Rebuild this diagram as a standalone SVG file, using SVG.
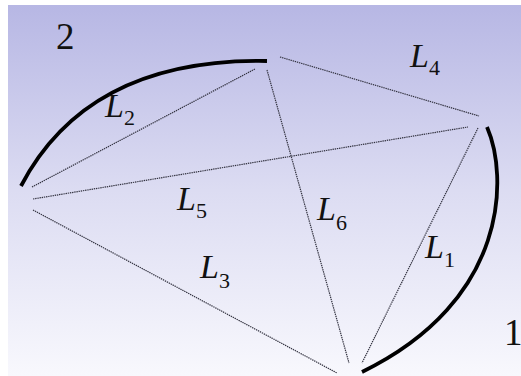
<svg xmlns="http://www.w3.org/2000/svg" width="521" height="376" viewBox="0 0 521 376">
<defs>
<linearGradient id="bg" x1="0" y1="0" x2="0" y2="1">
<stop offset="0" stop-color="#b7b7e4"/>
<stop offset="0.5" stop-color="#dcdcf2"/>
<stop offset="1" stop-color="#f8f8fd"/>
</linearGradient>
</defs>
<style>
.link{stroke:#333340;stroke-width:1.2;stroke-dasharray:1.4 0.8;fill:none}
.arc{stroke:#000;stroke-width:3.8;fill:none;stroke-linecap:butt}
.lab{font-family:"Liberation Serif","Times New Roman",serif;font-style:italic;font-size:34px;fill:#111}
.sub{font-style:normal;font-size:22px}
.num{font-family:"Liberation Serif","Times New Roman",serif;font-size:37px;fill:#111}
</style>
<rect x="0" y="0" width="521" height="376" fill="#ffffff"/>
<rect x="8" y="5" width="513" height="371" fill="url(#bg)"/>
<g id="connectors">
<line class="link" x1="32" y1="187" x2="255" y2="69"/>
<line class="link" x1="280" y1="57" x2="479" y2="116"/>
<line class="link" x1="33" y1="199" x2="468" y2="127"/>
<line class="link" x1="267" y1="70" x2="349" y2="363"/>
<line class="link" x1="478" y1="128" x2="362" y2="363"/>
<line class="link" x1="33" y1="210" x2="337" y2="373"/>
</g>
<g id="node2">
<path class="arc" d="M21,186 Q88,58 267,61"/>
<text class="num" x="56" y="49">2</text>
</g>
<g id="node1">
<path class="arc" d="M487,127 C508,175 510,300 362,372"/>
<text class="num" x="504" y="345">1</text>
</g>
<g id="labels">
<text class="lab" x="105" y="117">L<tspan class="sub" dy="8">2</tspan></text>
<text class="lab" x="410" y="67">L<tspan class="sub" dy="8">4</tspan></text>
<text class="lab" x="177" y="210">L<tspan class="sub" dy="8">5</tspan></text>
<text class="lab" x="317" y="220">L<tspan class="sub" dy="10">6</tspan></text>
<text class="lab" x="425" y="258">L<tspan class="sub" dy="9">1</tspan></text>
<text class="lab" x="200" y="278">L<tspan class="sub" dy="10">3</tspan></text>
</g>
</svg>
